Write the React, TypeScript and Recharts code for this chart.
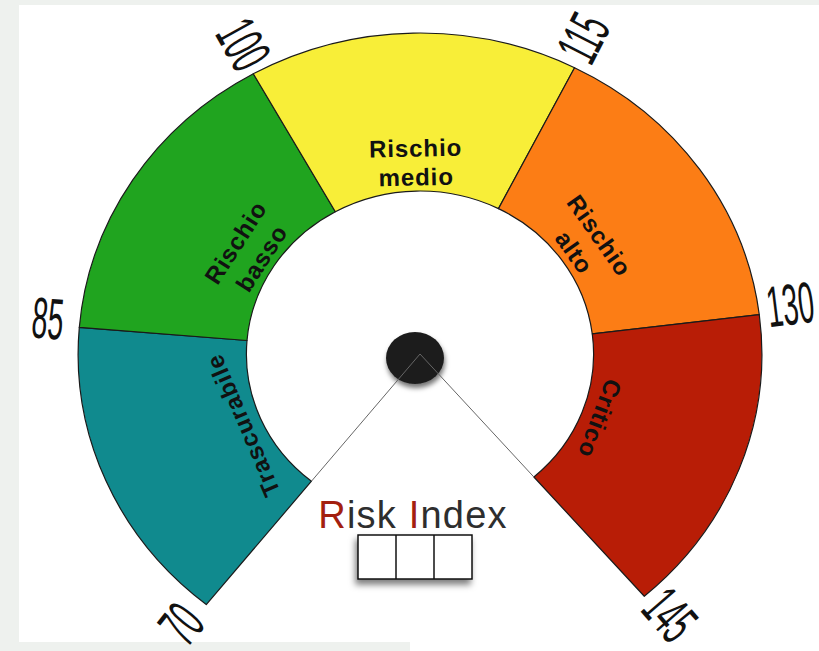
import React from 'react';
import { PieChart, Pie, Cell, Customized } from 'recharts';

// ---- data ----
const SEGMENTS = ['Trascurabile', 'Rischio basso', 'Rischio medio', 'Rischio alto', 'Critico'];
const LOWER = [70, 85, 100, 115, 130];
const UPPER = [85, 100, 115, 130, 145];
const TICKS = [70, 85, 100, 115, 130, 145];
const COLORS = ['#108a8e', '#20a41f', '#f8ee38', '#fc7d15', '#b81d06'];
const TITLE_PARTS = ['R', 'isk ', 'I', 'ndex'];
const TITLE_COLORS = ['#a3200f', '#2e2e2e', '#a3200f', '#2e2e2e'];
const INDEX_CELLS = ['', '', ''];

const data = SEGMENTS.map((name, i) => ({ name, value: UPPER[i] - LOWER[i] }));

// ---- layout ----
const W = 819;
const H = 651;
const CX = 415;
const CY = 349;
const R_IN = 163;
const R_OUT = 321;
const XS = 1.065; // horizontal stretch of the gauge
const START = 231.3;
const END = -49;
const RAD = Math.PI / 180;

const pt = (cx: number, cy: number, r: number, a: number) => ({
  x: cx + r * XS * Math.cos(a * RAD),
  y: cy - r * Math.sin(a * RAD),
});

function EllipseSector(props: any) {
  const { cx, cy, innerRadius, outerRadius, startAngle, endAngle, fill, stroke, strokeWidth } = props;
  const large = Math.abs(startAngle - endAngle) > 180 ? 1 : 0;
  const sweep = startAngle > endAngle ? 1 : 0;
  const p1 = pt(cx, cy, outerRadius, startAngle);
  const p2 = pt(cx, cy, outerRadius, endAngle);
  const p3 = pt(cx, cy, innerRadius, endAngle);
  const p4 = pt(cx, cy, innerRadius, startAngle);
  const d = `M${p1.x},${p1.y} A${outerRadius * XS},${outerRadius} 0 ${large} ${sweep} ${p2.x},${p2.y} L${p3.x},${p3.y} A${innerRadius * XS},${innerRadius} 0 ${large} ${1 - sweep} ${p4.x},${p4.y} Z`;
  return <path d={d} fill={fill} stroke={stroke} strokeWidth={strokeWidth} strokeLinejoin="round" />;
}

function TickLabel({ cx, cy, angle, value }: any) {
  const base = pt(cx, cy, 351, angle);
  const rot = Math.cos(angle * RAD) < 0 ? 180 - angle : -angle;
  // small shift towards the top of the glyphs
  const ux = Math.sin(rot * RAD) * 6;
  const uy = -Math.cos(rot * RAD) * 6;
  return (
    <text
      transform={`translate(${base.x + ux},${base.y + uy}) rotate(${rot}) scale(0.49,1)`}
      textAnchor="middle"
      dominantBaseline="central"
      fontFamily="'Liberation Sans', Arial, sans-serif"
      fontSize={58}
      fill="#111"
    >
      {value}
    </text>
  );
}

function renderLabel(props: any) {
  const { cx, cy, innerRadius, startAngle, endAngle, midAngle, index } = props;
  const words = SEGMENTS[index].split(' ');
  const radii = words.length > 1 ? [206, 177] : [181];
  const rot = 90 - midAngle;
  const innerStart = pt(cx, cy, innerRadius, startAngle);
  const innerEnd = pt(cx, cy, innerRadius, endAngle);
  return (
    <g key={`lbl-${index}`}>
      {index === 0 && <line x1={cx} y1={cy} x2={innerStart.x} y2={innerStart.y} stroke="#666" strokeWidth={1} />}
      {index === SEGMENTS.length - 1 && <line x1={cx} y1={cy} x2={innerEnd.x} y2={innerEnd.y} stroke="#666" strokeWidth={1} />}
      {words.map((w, k) => {
        const p = pt(cx, cy, radii[k], midAngle);
        return (
          <text
            key={k}
            transform={`translate(${p.x},${p.y}) rotate(${rot})`}
            textAnchor="middle"
            dominantBaseline="central"
            fontFamily="'Liberation Sans', Arial, sans-serif"
            fontWeight="bold"
            fontSize={24}
            letterSpacing={0.9}
            fill="#111"
          >
            {w}
          </text>
        );
      })}
      <TickLabel cx={cx} cy={cy} angle={startAngle} value={TICKS[index]} />
      {index === SEGMENTS.length - 1 && <TickLabel cx={cx} cy={cy} angle={endAngle} value={TICKS[index + 1]} />}
    </g>
  );
}

function Decor() {
  const bx = 358;
  const by = 535;
  const cw = 38;
  const ch = 44;
  return (
    <g>
      <defs>
        <filter id="knobShadow" x="-50%" y="-50%" width="200%" height="200%">
          <feDropShadow dx="1" dy="4" stdDeviation="2.5" floodColor="#000" floodOpacity="0.55" />
        </filter>
        <filter id="boxShadow" x="-30%" y="-30%" width="160%" height="180%">
          <feDropShadow dx="-2" dy="5" stdDeviation="3" floodColor="#000" floodOpacity="0.5" />
        </filter>
      </defs>
      <ellipse cx={CX} cy={CY + 9} rx={29} ry={26} fill="#1d1d1d" filter="url(#knobShadow)" />
      <text
        x={413}
        y={528}
        textAnchor="middle"
        fontFamily="'Liberation Sans', Arial, sans-serif"
        fontSize={38}
        letterSpacing={1.2}
      >
        {TITLE_PARTS.map((t, i) => (
          <tspan key={i} fill={TITLE_COLORS[i]}>
            {t}
          </tspan>
        ))}
      </text>
      <rect x={bx} y={by} width={cw * INDEX_CELLS.length} height={ch} fill="#fff" stroke="#111" strokeWidth={1.5} filter="url(#boxShadow)" />
      {INDEX_CELLS.map((_, i) =>
        i > 0 ? <line key={i} x1={bx + cw * i} y1={by} x2={bx + cw * i} y2={by + ch} stroke="#111" strokeWidth={1.5} /> : null
      )}
    </g>
  );
}

export default function App() {
  return (
    <div style={{ position: 'fixed', left: 0, top: 0, width: W, height: H, background: '#eef1ee', overflow: 'hidden' }}>
      <div style={{ position: 'absolute', left: 19, top: 5, width: W - 19, height: H - 5, background: '#fff' }} />
      <div style={{ position: 'absolute', left: 0, top: 642, width: 410, height: 9, background: '#eef1ee' }} />
      <div style={{ position: 'absolute', left: 0, top: 0 }}>
        <PieChart width={W} height={H}>
          <Pie
            data={data}
            dataKey="value"
            nameKey="name"
            cx={CX}
            cy={CY}
            innerRadius={R_IN}
            outerRadius={R_OUT}
            startAngle={START}
            endAngle={END}
            paddingAngle={0}
            stroke="#1a1a1a"
            strokeWidth={1.2}
            isAnimationActive={false}
            labelLine={false}
            label={renderLabel}
            shape={EllipseSector}
          >
            {data.map((d, i) => (
              <Cell key={d.name} fill={COLORS[i]} />
            ))}
          </Pie>
          <Customized component={<Decor />} />
        </PieChart>
      </div>
    </div>
  );
}
